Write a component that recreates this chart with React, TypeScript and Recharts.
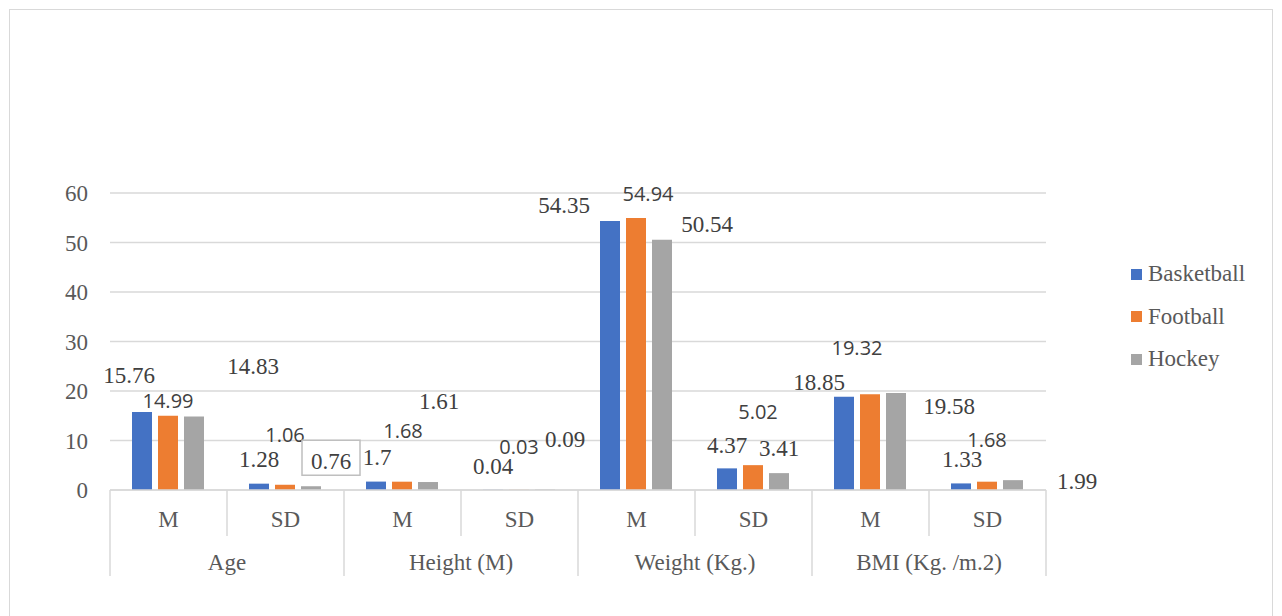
import { Bar, BarChart, CartesianGrid, LabelList, XAxis, YAxis } from "recharts";

const subCategories = ["M", "SD", "M", "SD", "M", "SD", "M", "SD"];
const groups = ["Age", "Height (M)", "Weight (Kg.)", "BMI (Kg. /m.2)"];
const basketball = [15.76, 1.28, 1.7, 0.04, 54.35, 4.37, 18.85, 1.33];
const football = [14.99, 1.06, 1.68, 0.03, 54.94, 5.02, 19.32, 1.68];
const hockey = [14.83, 0.76, 1.61, 0.09, 50.54, 3.41, 19.58, 1.99];
const yTicks = [0, 10, 20, 30, 40, 50, 60];

// label nudges (dx, dy) from the top centre of each bar
const basketballNudge = [[-13, -36], [0, -24], [1, -24], [0, -23], [-46, -15], [0, -23], [-25, -14], [1, -24]];
const footballNudge = [[0, -15], [0, -50], [1, -51], [0, -43], [12, -25], [5, -54], [-13, -47], [0, -42]];
const hockeyNudge = [[59, -50], [20, -25], [11, -81], [20, -50], [45, -15], [0, -25], [53, 13], [64, 1]];

const SERIF = "'Liberation Serif', 'Times New Roman', serif";
const SANS = "'Open Sans', 'Noto Sans', sans-serif";

const chartData = subCategories.map((sub, i) => ({
  key: String(i),
  sub,
  group: groups[Math.floor(i / 2)],
  Basketball: basketball[i],
  Football: football[i],
  Hockey: hockey[i],
}));

const series = [
  { key: "Basketball", color: "#4472C4", nudge: basketballNudge, font: SERIF, size: 23 },
  { key: "Football", color: "#ED7D31", nudge: footballNudge, font: SANS, size: 20 },
  { key: "Hockey", color: "#A5A5A5", nudge: hockeyNudge, font: SERIF, size: 23 },
];

const PLOT_LEFT = 110;
const PLOT_RIGHT = 1046;
const BAND = (PLOT_RIGHT - PLOT_LEFT) / subCategories.length;

function makeLabel(s: (typeof series)[number]) {
  return (props: any) => {
    const vb = props.viewBox ?? {};
    const x = Number(props.x ?? vb.x);
    const y = Number(props.y ?? vb.y);
    const w = Number(props.width ?? vb.width);
    const i = Number(props.index);
    const [dx, dy] = s.nudge[i] ?? [0, -15];
    const cx = x + w / 2 + dx;
    const cy = y + dy;
    const boxed = s.key === "Hockey" && i === 1;
    return (
      <g>
        {boxed && (
          <rect x={cx - 29} y={cy - 21} width={58} height={35} fill="#fff" stroke="#bfbfbf" strokeWidth={1.5} />
        )}
        <text
          x={cx}
          y={cy}
          textAnchor="middle"
          dominantBaseline="central"
          fontFamily={s.font}
          fontSize={s.size}
          fill="#404040"
        >
          {props.value}
        </text>
      </g>
    );
  };
}

function CategoryTick(props: any) {
  const { x, y, index, payload } = props;
  const i = Number(index ?? payload?.index ?? 0);
  const left = x - BAND / 2;
  const isGroupStart = i % 2 === 0;
  const last = i === subCategories.length - 1;
  return (
    <g>
      <line x1={left} y1={y} x2={left} y2={y + (isGroupStart ? 86 : 46)} stroke="#d9d9d9" strokeWidth={1.5} />
      {last && <line x1={left + BAND} y1={y} x2={left + BAND} y2={y + 86} stroke="#d9d9d9" strokeWidth={1.5} />}
      <text x={x} y={y + 29} textAnchor="middle" dominantBaseline="central" fontFamily={SERIF} fontSize={23} fill="#595959">
        {subCategories[i]}
      </text>
      {isGroupStart && (
        <text
          x={x + BAND / 2}
          y={y + 72}
          textAnchor="middle"
          dominantBaseline="central"
          fontFamily={SERIF}
          fontSize={23}
          fill="#595959"
        >
          {groups[i / 2]}
        </text>
      )}
    </g>
  );
}

export default function App() {
  return (
    <div style={{ position: "absolute", left: 0, top: 0, width: 1282, height: 616, background: "#fff", overflow: "hidden" }}>
      <div
        style={{
          position: "absolute",
          left: 9,
          top: 9,
          width: 1264,
          height: 640,
          border: "1.5px solid #d9d9d9",
          boxSizing: "border-box",
        }}
      />
      <BarChart
        width={1282}
        height={616}
        data={chartData}
        margin={{ top: 193, right: 1282 - PLOT_RIGHT, bottom: 36, left: PLOT_LEFT - 30 }}
        barCategoryGap={22}
        barGap={6}
        style={{ position: "absolute", left: 0, top: 0 }}
      >
        <CartesianGrid vertical={false} stroke="#d9d9d9" strokeWidth={1.5} />
        <XAxis
          dataKey="key"
          height={90}
          axisLine={{ stroke: "#d9d9d9", strokeWidth: 1.5 }}
          tickLine={false}
          tickSize={0}
          tickMargin={0}
          interval={0}
          tick={<CategoryTick />}
        />
        <YAxis
          width={30}
          domain={[0, 60]}
          ticks={yTicks}
          axisLine={false}
          tickLine={false}
          tickSize={0}
          tickMargin={22}
          tick={{ fontFamily: SERIF, fontSize: 23, fill: "#595959" }}
        />
        {series.map((s) => (
          <Bar key={s.key} dataKey={s.key} fill={s.color} isAnimationActive={false}>
            <LabelList dataKey={s.key} content={makeLabel(s)} />
          </Bar>
        ))}
      </BarChart>
      <div style={{ position: "absolute", left: 1131, top: 253, fontFamily: SERIF, fontSize: 23, color: "#595959" }}>
        {series.map((s) => (
          <div key={s.key} style={{ display: "flex", alignItems: "center", height: 42.5 }}>
            <span style={{ width: 11, height: 11, background: s.color, marginRight: 6 }} />
            <span>{s.key}</span>
          </div>
        ))}
      </div>
    </div>
  );
}
